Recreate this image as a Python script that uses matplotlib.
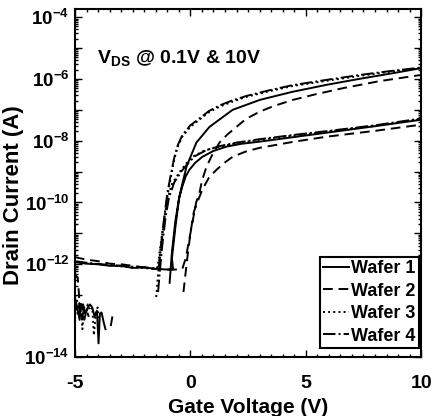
#!/usr/bin/env python
"""Transfer curves (Id-Vg) of four wafers at two drain biases."""

import numpy as np
import matplotlib
matplotlib.use("Agg")
import matplotlib.pyplot as plt
from matplotlib.ticker import FixedLocator, FuncFormatter, MultipleLocator

nan = np.nan

# Each wafer: low-VDS sweep (-5 -> 10 V) followed by high-VDS sweep (10 -> -5 V).
# Currents given as log10(I / A); nan marks points that are not drawn.
wafer1_vg = [
    -5.0, -4.9, -4.8, -4.75, -4.65, -4.55, -4.45, -4.35, -4.25, -4.15, -4.05,
    -3.98, -3.92, -3.85, -3.75, -3.68, nan,
    -0.9, -0.8, -0.65, -0.5, -0.35, -0.2, -0.04, 0.2, 0.52, 1.0, 1.57, 2.2,
    3.0, 4.5, 5.9, 8.0, 10.0,
    10.0, 8.8, 7.3, 5.9, 4.4, 3.0, 1.83, 0.83, 0.26, -0.17, -0.48, -0.65,
    -0.8, -0.75, -1.0, -1.5, -2.0, -2.5, -3.0, -3.5, -4.0, -4.5, -5.0,
]
wafer1_log_id = [
    -13.05, -13.2, -13.4, -13.2, -13.15, -13.3, -13.2, -13.15, -13.2, -13.35,
    -13.25, -13.78, -13.3, -13.28, -13.45, -13.55, nan,
    -12.6, -11.6, -10.6, -9.9, -9.48, -9.15, -8.94, -8.72, -8.52, -8.33, -8.19,
    -8.1, -8.03, -7.88, -7.74, -7.53, -7.32,
    -5.65, -5.81, -6.0, -6.19, -6.42, -6.68, -7.0, -7.55, -8.06, -8.84, -9.81,
    -10.8, -11.8, -12.15, -12.17, -12.15, -12.1, -12.12, -12.05, -12.05, -12.0,
    -11.98, -11.93,
]

wafer2_vg = [
    -5.0, -4.88, -4.83, -4.78, -4.7, -4.6, -4.5, -4.4, nan,
    -3.45, -3.35, nan,
    -0.3, -0.15, 0.0, 0.15, 0.35, 0.52, 0.8, 1.13, 1.5, 1.83, 2.4, 3.0, 4.5,
    5.9, 8.0, 10.0,
    10.0, 8.2, 6.6, 5.4, 4.43, 3.6, 3.0, 2.4, 2.0, 1.6, 1.26, 0.95, 0.7, 0.5,
    0.39, 0.25, 0.0, -0.2, -0.35, -0.8, -1.5, -2.0, -2.5, -3.0, -3.5, -4.0,
    -4.5, -5.0,
]
wafer2_log_id = [
    -12.3, -12.45, -12.95, -13.3, -13.15, -13.4, -13.25, -13.35, nan,
    -13.5, -13.28, nan,
    -12.9, -11.9, -11.0, -10.3, -9.9, -9.58, -9.2, -8.94, -8.7, -8.52, -8.35,
    -8.23, -8.03, -7.87, -7.68, -7.48,
    -5.87, -6.07, -6.3, -6.5, -6.68, -6.88, -7.06, -7.3, -7.55, -7.8, -8.06,
    -8.45, -8.84, -9.3, -9.7, -10.0, -11.0, -11.8, -12.15, -12.18, -12.15,
    -12.1, -12.05, -12.0, -11.98, -11.9, -11.85, -11.77,
]

wafer3_vg = [
    -5.0, -4.85, -4.75, -4.68, -4.6, -4.52, -4.45, -4.35, -4.25, -4.18, -4.1,
    -4.02, -3.95, nan,
    -1.48, -1.4, -1.3, -1.15, -1.0, -0.8, -0.48, -0.2, 0.09, 0.6, 1.26, 2.0,
    3.0, 4.5, 5.9, 8.0, 10.0,
    10.0, 8.6, 7.35, 5.9, 4.43, 3.4, 2.43, 1.8, 1.26, 0.8, 0.39, 0.0, -0.35,
    -0.55, -0.7, -0.85, -1.0, -1.15, -1.3, -1.42, -1.6, -2.0, -2.5, -3.0, -3.5,
    -4.0, -4.5, -5.0,
]
wafer3_log_id = [
    -13.0, -13.15, -13.1, -13.55, -13.2, -13.3, -13.15, -13.25, -13.2, -13.65,
    -13.3, -13.2, -13.4, nan,
    -13.03, -12.3, -11.5, -10.6, -9.9, -9.4, -9.03, -8.75, -8.52, -8.32, -8.19,
    -8.08, -7.97, -7.83, -7.71, -7.52, -7.3,
    -5.65, -5.77, -5.9, -6.06, -6.23, -6.4, -6.58, -6.74, -6.9, -7.08, -7.32,
    -7.55, -7.87, -8.2, -8.61, -9.2, -9.81, -10.6, -11.4, -12.1, -12.15, -12.12,
    -12.1, -12.07, -12.03, -12.0, -11.97, -11.93,
]

wafer4_vg = [
    -5.0, -4.9, -4.8, -4.7, -4.6, nan,
    -1.4, -1.32, -1.22, -1.08, -0.93, -0.7, -0.4, -0.1, 0.2, 0.7, 1.3, 2.0,
    3.0, 4.5, 5.9, 8.0, 10.0,
    10.0, 8.6, 7.35, 5.9, 4.43, 3.4, 2.43, 1.8, 1.26, 0.8, 0.39, 0.0, -0.35,
    -0.55, -0.7, -0.85, -1.0, -1.12, -1.25, -1.36, -1.6, -2.0, -2.5, -3.0,
    -3.5, -4.0, -4.5, -5.0,
]
wafer4_log_id = [
    -13.05, -13.3, -13.15, -13.4, -13.2, nan,
    -12.9, -12.2, -11.4, -10.5, -9.85, -9.35, -9.0, -8.73, -8.5, -8.3, -8.17,
    -8.06, -7.95, -7.81, -7.69, -7.5, -7.28,
    -5.63, -5.75, -5.87, -6.03, -6.2, -6.37, -6.55, -6.7, -6.86, -7.04, -7.28,
    -7.5, -7.82, -8.15, -8.55, -9.1, -9.7, -10.4, -11.3, -12.08, -12.13,
    -12.1, -12.08, -12.05, -12.02, -11.99, -11.95, -11.9,
]

labels = ["Wafer 1", "Wafer 2", "Wafer 3", "Wafer 4"]
styles = ["-", (0, (5, 3)), ":", "-."]


def _forward(y):
    # log axis, with the last decade (1e-14..1e-13) drawn twice as tall
    v = np.log10(np.clip(y, 1e-300, None))
    return np.where(v >= -13, v, -13 + 2 * (v + 13))


def _inverse(u):
    u = np.asarray(u, dtype=float)
    return np.where(u >= -13, 10.0 ** u, 10.0 ** (-13 + (u + 13) / 2))


def _ytick_label(value, _pos):
    k = int(round(np.log10(value)))
    if k % 2:
        return ""
    return r"$\mathbf{10^{%d}}$" % k


plt.rcParams["font.family"] = "Liberation Sans"
plt.rcParams["font.weight"] = "bold"
plt.rcParams["mathtext.fontset"] = "custom"
plt.rcParams["mathtext.rm"] = "Liberation Sans"
plt.rcParams["mathtext.bf"] = "Liberation Sans:bold"
plt.rcParams["axes.unicode_minus"] = False

figure = plt.figure(figsize=(4.36, 4.16), dpi=100)
axis = figure.add_axes([0.172, 0.142, 0.794, 0.836])

series = [
    (wafer1_vg, wafer1_log_id),
    (wafer2_vg, wafer2_log_id),
    (wafer3_vg, wafer3_log_id),
    (wafer4_vg, wafer4_log_id),
]
for (vg, log_id), style, label in zip(series, styles, labels):
    axis.plot(vg, 10.0 ** np.array(log_id), color="black", linestyle=style,
              linewidth=1.4, label=label)

axis.set_yscale("function", functions=(_forward, _inverse))
axis.set_xlim(-5, 10)
axis.set_ylim(1e-14, 10 ** -3.74)

axis.xaxis.set_major_locator(FixedLocator([-5, 0, 5, 10]))
axis.xaxis.set_minor_locator(MultipleLocator(0.5))
axis.yaxis.set_major_locator(FixedLocator([10.0 ** k for k in range(-14, -3)]))
axis.yaxis.set_minor_locator(FixedLocator(
    [m * 10.0 ** k for k in range(-13, -4) for m in range(2, 10)]))
axis.yaxis.set_major_formatter(FuncFormatter(_ytick_label))

axis.tick_params(which="both", direction="in", top=True, right=True, width=1.0)
axis.tick_params(which="major", length=5)
axis.tick_params(which="minor", length=2.5)
axis.tick_params(axis="y", which="major", labelsize=13.5, pad=4)
axis.tick_params(axis="x", which="major", labelsize=14, pad=13)
for spine in axis.spines.values():
    spine.set_linewidth(1.5)

axis.set_xlabel("Gate Voltage (V)", fontsize=15, fontweight="bold", labelpad=4)
axis.set_ylabel("Drain Current (A)", fontsize=16, fontweight="bold")
axis.yaxis.set_label_coords(-0.148, 0.465)

axis.text(0.063, 0.86, r"$\mathbf{V_{DS}}$ @ 0.1V & 10V", transform=axis.transAxes,
          fontsize=14, fontweight="bold", va="center", ha="left")

legend = axis.legend(loc="lower right", fontsize=13, handlelength=1.4,
                     handletextpad=0.15, labelspacing=0.3, borderpad=0.2,
                     borderaxespad=0.0, bbox_to_anchor=(0.995, 0.025),
                     fancybox=False, framealpha=1.0, edgecolor="black")
legend.get_frame().set_linewidth(1.5)
for text in legend.get_texts():
    text.set_fontweight("bold")

figure.savefig("out.png", dpi=100)
